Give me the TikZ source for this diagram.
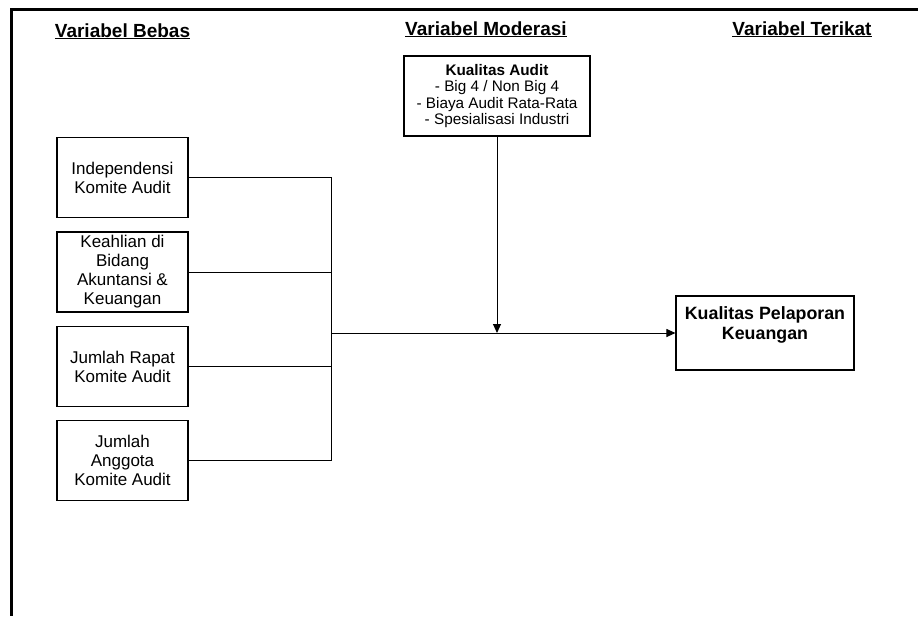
\documentclass[tikz,border=0pt]{standalone}
\usepackage{fontspec}
\setmainfont{Liberation Sans}
\usetikzlibrary{arrows.meta,positioning}

\begin{document}
\begin{tikzpicture}[
  x=1pt, y=-1pt,
  every node/.style={align=center},
  header/.style={font=\fontsize{19}{21}\selectfont\bfseries, anchor=base},
  varbox/.style={draw, line width=1.1pt, minimum width=131pt, minimum height=80pt, inner sep=2pt, font=\fontsize{17}{19}\selectfont},
  modbox/.style={draw, line width=1.1pt, minimum width=186pt, minimum height=80pt, inner sep=2pt, font=\fontsize{15.3}{16.6}\selectfont},
  depbox/.style={draw, line width=1.1pt, minimum width=178pt, minimum height=74pt, inner sep=2pt, font=\fontsize{17.8}{20}\selectfont\bfseries},
  link/.style={line width=1pt},
  arrow/.style={-{Triangle[length=9pt,width=8pt]}, line width=1pt}
]
\useasboundingbox (0,0) rectangle (918,616);

% --- Page frame ---
\draw[line width=3pt] (918,9) -- (11,9) -- (11,616);

% --- Column headers ---
\node[header] (hbebas) at (122.5,37) {\underline{Variabel Bebas}};
\node[header] (hmod) at (486,35) {\underline{Variabel Moderasi}};
\node[header] (hterikat) at (802,35) {\underline{Variabel Terikat}};

% --- Independent variables ---
\node[varbox] (indep) at (122.5,177.5) {Independensi\\Komite Audit};
\node[varbox] (ahli) at (122.5,272) {Keahlian di\\Bidang\\Akuntansi \&\\Keuangan};
\node[varbox] (rapat) at (122.5,366.5) {Jumlah Rapat\\Komite Audit};
\node[varbox] (anggota) at (122.5,460.5) {Jumlah\\Anggota\\Komite Audit};

% --- Moderating and dependent variables ---
\node[modbox] (kualaudit) at (497,96) {%
  \textbf{Kualitas Audit}\\
  - Big 4 / Non Big 4\\
  - Biaya Audit Rata-Rata\\
  - Spesialisasi Industri
};
\node[depbox] (lapkeu) at (765,333) {Kualitas Pelaporan\\Keuangan\\~};

\coordinate (join) at (331,333);

% --- Connectors ---
\draw[link] (indep.east) -| (join);
\draw[link] (ahli.east) -- (ahli.east -| join);
\draw[link] (rapat.east) -- (rapat.east -| join);
\draw[link] (anggota.east) -| (join);
\draw[arrow] (join) -- (lapkeu.west);
\draw[arrow] (kualaudit.south) -- (kualaudit.south |- join);

\end{tikzpicture}
\end{document}
